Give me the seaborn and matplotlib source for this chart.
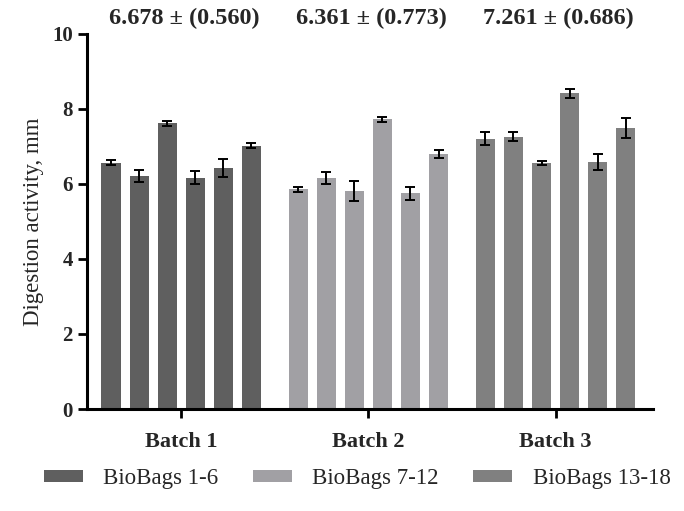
import numpy as np
import pandas as pd
import matplotlib
matplotlib.use("Agg")
import matplotlib.pyplot as plt
from matplotlib.patches import Patch
import seaborn as sns

# values
batches = ["Batch 1", "Batch 2", "Batch 3"]
bags = [1, 2, 3, 4, 5, 6]
batch1_vals = [6.57, 6.21, 7.62, 6.17, 6.43, 7.02]
batch2_vals = [5.86, 6.16, 5.81, 7.72, 5.75, 6.80]
batch3_vals = [7.21, 7.26, 6.56, 8.42, 6.59, 7.50]
batch1_err = [0.07, 0.16, 0.07, 0.165, 0.24, 0.06]
batch2_err = [0.07, 0.16, 0.26, 0.07, 0.165, 0.115]
batch3_err = [0.18, 0.12, 0.06, 0.125, 0.21, 0.27]
batch_means = [6.678, 6.361, 7.261]
batch_sds = [0.560, 0.773, 0.686]
legend_labels = ["BioBags 1-6", "BioBags 7-12", "BioBags 13-18"]
batch_colors = ["#5f5f5f", "#a1a0a4", "#808080"]

vals = [batch1_vals, batch2_vals, batch3_vals]
errs = [batch1_err, batch2_err, batch3_err]

df = pd.DataFrame({
    "batch": np.repeat(batches, len(bags)),
    "bag": bags * len(batches),
    "value": batch1_vals + batch2_vals + batch3_vals,
})

sns.set_style("ticks")
plt.rcParams["font.family"] = ["Liberation Serif", "DejaVu Serif"]

fig = plt.figure(figsize=(6.84, 5.11), dpi=100)
ax = fig.add_axes([0.127, 0.1996, 0.8275, 0.734])

sns.barplot(data=df, x="batch", y="value", hue="bag", order=batches,
            hue_order=bags, dodge=True, width=0.9, gap=0.32,
            errorbar=None, palette=["#808080"] * 6, legend=False, ax=ax)

# colour by batch and add the SD error bars
bar_conts = list(ax.containers)
for c, cont in enumerate(bar_conts):
    for j, bar in enumerate(cont.patches):
        bar.set_facecolor(batch_colors[j])
        bar.set_edgecolor("none")
        xc = bar.get_x() + bar.get_width() / 2
        ax.errorbar(xc, bar.get_height(), yerr=errs[j][c], fmt="none",
                    ecolor="black", elinewidth=1.4, capsize=3.3, capthick=1.4)

for j, (m, s) in enumerate(zip(batch_means, batch_sds)):
    ax.text(j + 0.015, 10.41, f"{m:.3f} ± ({s:.3f})", ha="center", va="center",
            fontsize=17.5, fontweight="bold", clip_on=False)

ax.set_xlim(-0.504, 2.52)
ax.set_ylim(0, 10)
ax.set_yticks([0, 2, 4, 6, 8, 10])
ax.set_xlabel("")
ax.set_ylabel("Digestion activity, mm", fontsize=16.5, labelpad=6)
for lab in ax.get_yticklabels():
    lab.set_fontweight("bold")
    lab.set_fontsize(15)
for lab in ax.get_xticklabels():
    lab.set_fontweight("bold")
    lab.set_fontsize(16)
ax.tick_params(axis="both", direction="out", length=6.5, width=2, color="black")
ax.tick_params(axis="x", pad=10)
for side in ["left", "bottom"]:
    ax.spines[side].set_linewidth(2.2)
    ax.spines[side].set_color("black")
sns.despine(ax=ax)

handles = [Patch(facecolor=col, edgecolor="none") for col in batch_colors]
fig.legend(handles, legend_labels, loc="center", bbox_to_anchor=(0.522, 0.063),
           ncol=3, frameon=False, fontsize=16.5, handlelength=1.7,
           handleheight=0.4, columnspacing=1.5, handletextpad=0.9)

fig.savefig("out.png", dpi=100)
